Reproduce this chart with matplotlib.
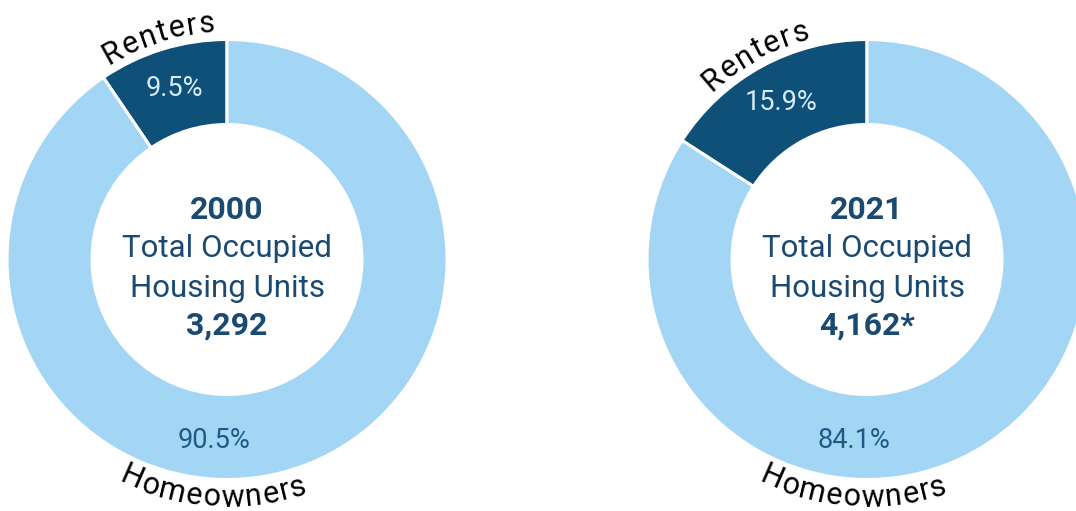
import numpy as np
import matplotlib
matplotlib.use("Agg")
import matplotlib.pyplot as plt
from matplotlib.font_manager import FontProperties
from matplotlib.textpath import text_to_path

plt.rcParams["font.family"] = ["Roboto", "DejaVu Sans"]

# data
GROUPS = ["Renters", "Homeowners"]
YEARS = ["2000", "2021"]
TOTALS = ["3,292", "4,162*"]
RENTERS = [9.5, 15.9]
OWNERS = [90.5, 84.1]

LIGHT = "#a3d5f4"
DARK = "#0f5079"
NAVY = "#1a4a71"

W, H = 1076, 511
CENTERS = [(227, H - 259.5), (867, H - 259.5)]
R_OUT = 220
R_IN = 135


def curved_text(ax, s, cx, cy, radius, mid_deg, size, top=True, color="black", track=1.5):
    """Lay a string out letter by letter along a circle."""
    fp = FontProperties(family=["Roboto", "DejaVu Sans"], size=size)
    scale = 100 / 72  # points -> pixels

    def width(t):
        if not t:
            return 0.0
        return text_to_path.get_text_width_height_descent(t, fp, ismath=False)[0] * scale

    total = width(s) + track * (len(s) - 1)
    for i, ch in enumerate(s):
        offset = width(s[:i]) + track * i + width(ch) / 2 - total / 2
        dtheta = np.degrees(offset / radius)
        ang = mid_deg - dtheta if top else mid_deg + dtheta
        rot = ang - 90 if top else ang + 90
        x = cx + radius * np.cos(np.radians(ang))
        y = cy + radius * np.sin(np.radians(ang))
        ax.text(x, y, ch, fontproperties=fp, color=color, rotation=rot,
                rotation_mode="anchor", ha="center", va="baseline")


fig = plt.figure(figsize=(W / 100, H / 100), dpi=100)
ax = fig.add_axes([0, 0, 1, 1])

for (cx, cy), rent, own, year, total in zip(CENTERS, RENTERS, OWNERS, YEARS, TOTALS):
    ax.pie([rent, own], colors=[DARK, LIGHT], startangle=90, counterclock=True,
           radius=R_OUT, center=(cx, cy),
           wedgeprops=dict(width=R_OUT - R_IN, edgecolor="white", linewidth=2.2))

    r_mid = (R_OUT + R_IN) / 2 + 1
    a_rent = 90 + rent * 3.6 / 2
    ax.text(cx + r_mid * np.cos(np.radians(a_rent)), cy + r_mid * np.sin(np.radians(a_rent)),
            f"{rent}%", ha="center", va="center", fontsize=19.5, color="#d6ebf8")
    a_own = 266
    ax.text(cx + (r_mid + 3) * np.cos(np.radians(a_own)), cy + (r_mid + 3) * np.sin(np.radians(a_own)),
            f"{own}%", ha="center", va="center", fontsize=19.5, color="#1d5a85")

    curved_text(ax, GROUPS[0], cx, cy, 228, a_rent, 22, top=True)
    curved_text(ax, GROUPS[1], cx, cy, 247, 266.5, 22, top=False)

    ax.text(cx, cy + 50, year, ha="center", va="center", fontsize=23,
            fontweight="bold", color=NAVY)
    ax.text(cx, cy + 11, "Total Occupied", ha="center", va="center", fontsize=22.5, color=NAVY)
    ax.text(cx, cy - 29, "Housing Units", ha="center", va="center", fontsize=22.5, color=NAVY)
    ax.text(cx, cy - 66, total, ha="center", va="center", fontsize=23,
            fontweight="bold", color=NAVY)

ax.set_xlim(0, W)
ax.set_ylim(0, H)
ax.set_aspect("equal")
ax.axis("off")

fig.savefig("out.png", dpi=100, facecolor="white")
